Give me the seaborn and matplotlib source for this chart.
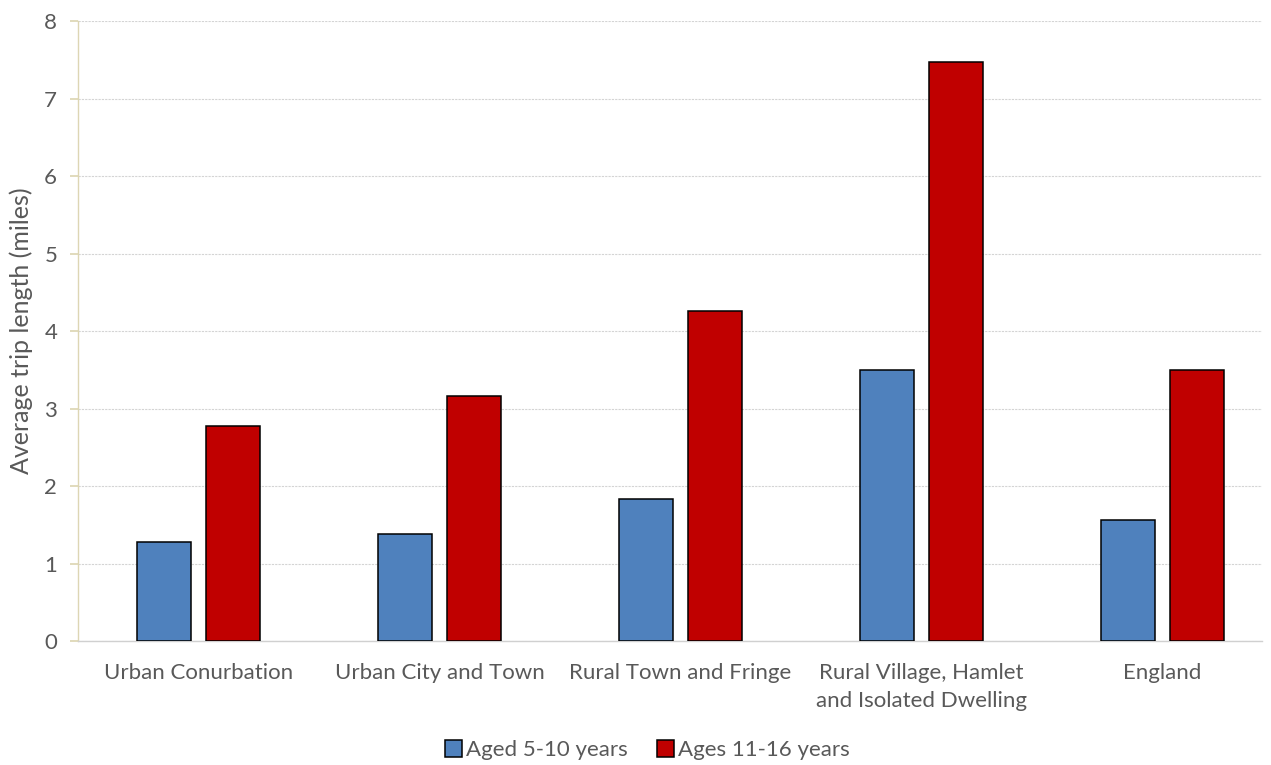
import numpy as np
import pandas as pd
import seaborn as sns
from matplotlib import pyplot as plt

# values
areas = ['Urban Conurbation', 'Urban City and Town', 'Rural Town and Fringe',
         'Rural Village, Hamlet\nand Isolated Dwelling', 'England']
aged_5_10 = [1.28, 1.38, 1.83, 3.50, 1.56]
ages_11_16 = [2.78, 3.16, 4.26, 7.47, 3.50]
series_names = ['Aged 5-10 years', 'Ages 11-16 years']
y_ticks = [0, 1, 2, 3, 4, 5, 6, 7, 8]

df = pd.DataFrame({
    'area': areas * 2,
    'group': [series_names[0]] * len(areas) + [series_names[1]] * len(areas),
    'miles': aged_5_10 + ages_11_16,
})

sns.set_theme(style='white')
plt.rcParams['font.family'] = ['Lato', 'DejaVu Sans']

fig = plt.figure(figsize=(12.71, 7.65), dpi=100)
ax = fig.add_axes([0.0614, 0.162, 0.9316, 0.8105])

sns.barplot(data=df, x='area', y='miles', hue='group', order=areas,
            hue_order=series_names, palette=['#4F81BD', '#C00000'], saturation=1,
            width=0.573, gap=0.217, edgecolor='black', linewidth=1.1,
            ax=ax, zorder=3)

ax.set_ylim(0, 8)
ax.set_yticks(y_ticks)
# category slots are ~241 px wide, plot area stops a bit short of the last slot
ax.set_xlim(-0.5, len(areas) - 0.5 - 0.087)
ax.yaxis.grid(True, color='#D4D4D4', linestyle=(0, (2, 1)), linewidth=0.8, zorder=0)
ax.set_axisbelow(True)

for side in ['top', 'right']:
    ax.spines[side].set_visible(False)
ax.spines['left'].set_color('#DDD6B4')
ax.spines['left'].set_linewidth(1.0)
ax.spines['bottom'].set_color('#D0D0D0')
ax.spines['bottom'].set_linewidth(1.0)

ax.tick_params(axis='y', left=True, length=6, color='#DDD6B4', labelsize=16,
               labelcolor='#595959', pad=9)
ax.tick_params(axis='x', bottom=False, labelsize=16, labelcolor='#595959', pad=10)
for lbl in ax.get_xticklabels():
    lbl.set_linespacing(1.5)
ax.set_xlabel('')
ax.set_ylabel('Average trip length (miles)', fontsize=18, color='#595959', labelpad=8)

ax.legend(loc='upper center', bbox_to_anchor=(0.481, -0.135), ncol=2, frameon=False,
          fontsize=16, labelcolor='#595959', handlelength=0.75, handleheight=0.75,
          handletextpad=0.2, columnspacing=1.3, borderpad=0.2)

fig.savefig('out.png', dpi=100)
